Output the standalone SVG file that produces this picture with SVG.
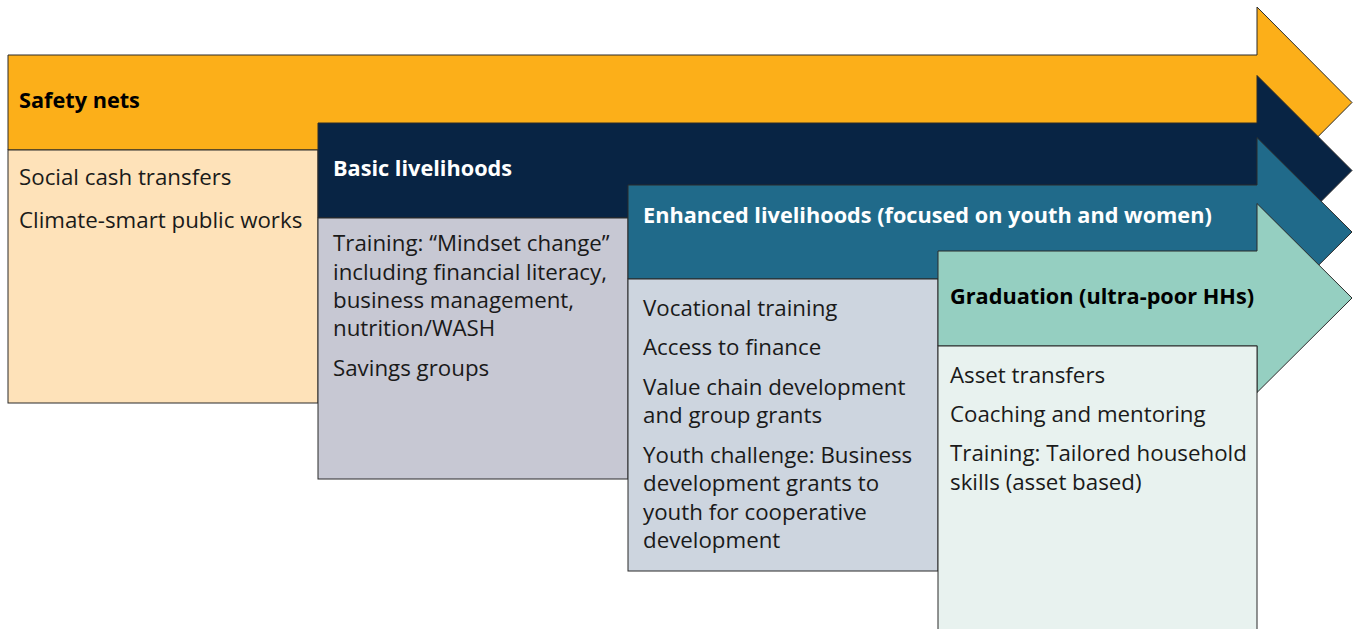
<svg xmlns="http://www.w3.org/2000/svg" width="1353" height="629" viewBox="0 0 1353 629">
<style>
.ol{stroke:#2b2b2b;stroke-width:1}
.h{font-family:"Open Sans","Liberation Sans",sans-serif;font-weight:bold;font-size:21.7px}
.t{font-family:"Open Sans","Liberation Sans",sans-serif;font-size:22.3px;fill:#1a1a1a}
</style>
<rect width="1353" height="629" fill="#ffffff"/>
<g id="safety-nets">
<path class="ol" fill="#FCAF19" d="M8,55 H1257 V7 L1352,102.5 L1257,198 V150 H8 Z"/>
<rect class="ol" x="8" y="150" width="310" height="253" fill="#FEE2B9"/>
<text class="h" x="19" y="108" fill="#000">Safety nets</text>
<text class="t" x="19" y="185">Social cash transfers</text>
<text class="t" x="19" y="228">Climate-smart public works</text>
</g>
<g id="basic-livelihoods">
<path class="ol" fill="#082444" d="M318,123 H1257 V75.5 L1352,170.5 L1257,265.5 V218 H318 Z"/>
<rect class="ol" x="318" y="218" width="310" height="261" fill="#C7C8D3"/>
<text class="h" x="333" y="176" fill="#fff">Basic livelihoods</text>
<text class="t" x="333" y="251">Training: “Mindset change”</text>
<text class="t" x="333" y="280">including financial literacy,</text>
<text class="t" x="333" y="308">business management,</text>
<text class="t" x="333" y="336">nutrition/WASH</text>
<text class="t" x="333" y="376">Savings groups</text>
</g>
<g id="enhanced-livelihoods">
<path class="ol" fill="#206A8A" d="M628,185 H1257 V137.5 L1352,232 L1257,326.5 V279 H628 Z"/>
<rect class="ol" x="628" y="279" width="310" height="292" fill="#CDD5DF"/>
<text class="h" x="643" y="223" fill="#fff">Enhanced livelihoods (focused on youth and women)</text>
<text class="t" x="643" y="316">Vocational training</text>
<text class="t" x="643" y="355">Access to finance</text>
<text class="t" x="643" y="395">Value chain development</text>
<text class="t" x="643" y="423">and group grants</text>
<text class="t" x="643" y="463">Youth challenge: Business</text>
<text class="t" x="643" y="491">development grants to</text>
<text class="t" x="643" y="520">youth for cooperative</text>
<text class="t" x="643" y="548">development</text>
</g>
<g id="graduation">
<path class="ol" fill="#95CFC1" d="M938,251 H1257 V203.5 L1352,298 L1257,392.5 V346 H938 Z"/>
<rect class="ol" x="938" y="346" width="319" height="290" fill="#E8F2EF"/>
<text class="h" x="950" y="304" fill="#000">Graduation (ultra-poor HHs)</text>
<text class="t" x="950" y="383">Asset transfers</text>
<text class="t" x="950" y="422">Coaching and mentoring</text>
<text class="t" x="950" y="461">Training: Tailored household</text>
<text class="t" x="950" y="490">skills (asset based)</text>
</g>
<g id="connectors"></g>
</svg>
